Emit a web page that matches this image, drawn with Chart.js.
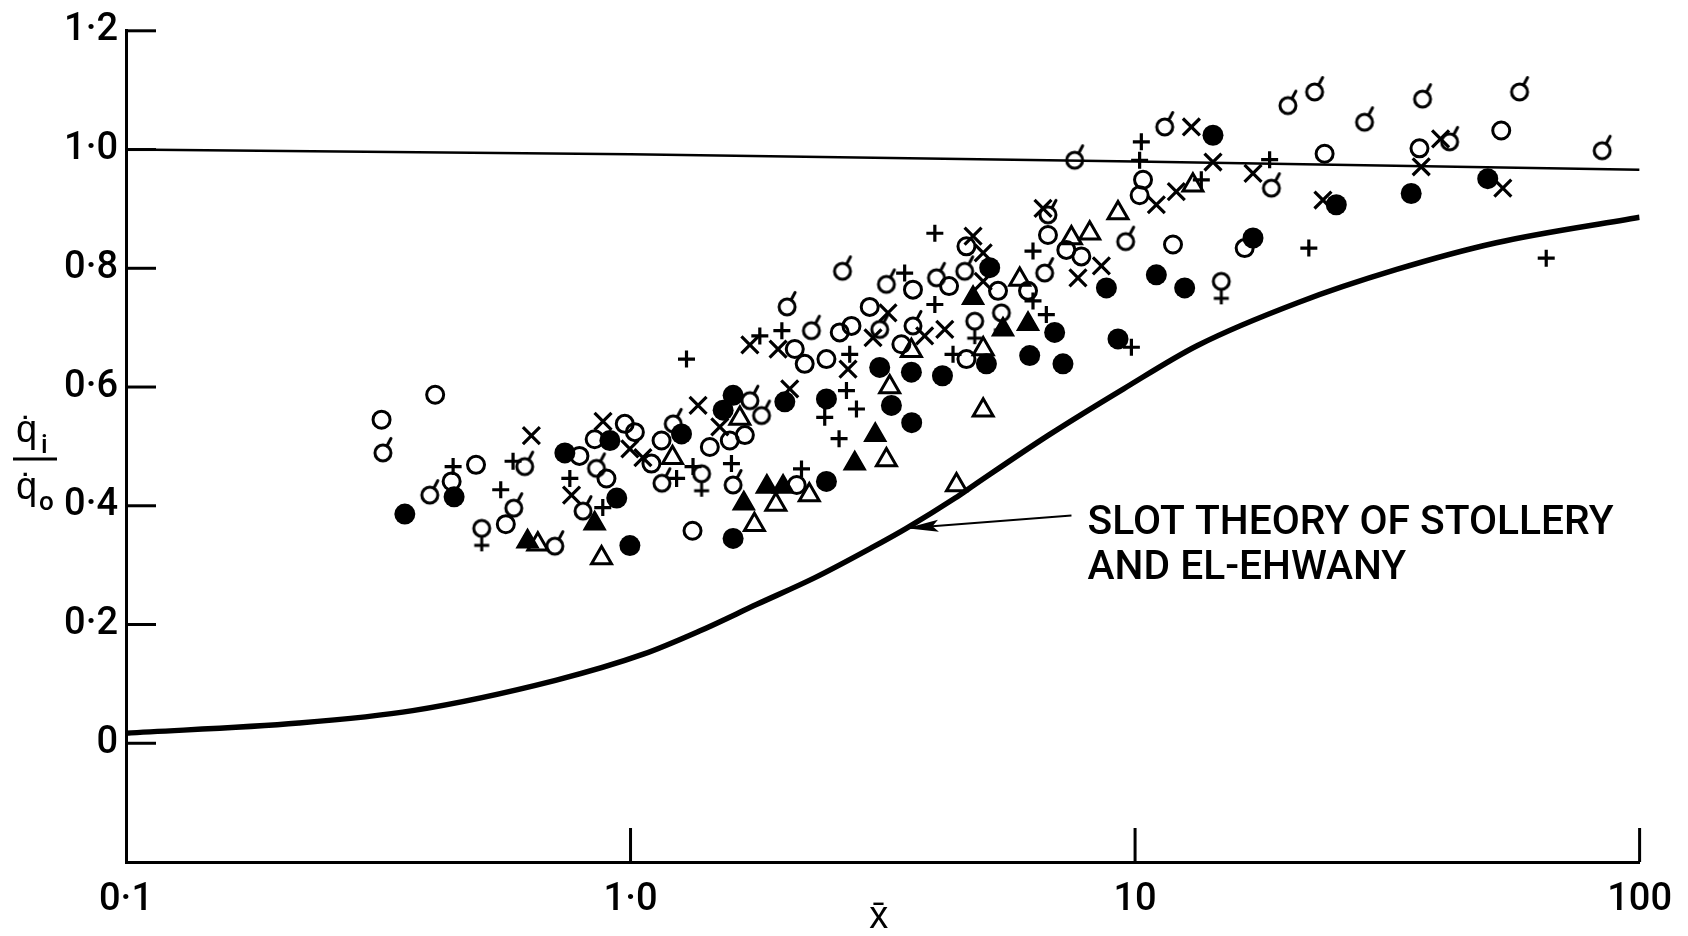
<!DOCTYPE html>
<html><head><meta charset="utf-8">
<script src="https://cdn.jsdelivr.net/npm/chart.js@4.4.1/dist/chart.umd.min.js"></script>
<style>html,body{margin:0;padding:0;background:#fff}#wrap{width:1688px;height:936px;position:relative}canvas{display:block}</style>
</head><body><div id="wrap"><canvas id="c" width="1688" height="936" style="width:1688px;height:936px"></canvas></div>
<script>
// ---------- data ----------
const xTickValues = [0.1, 1, 10, 100];
const xTickLabels = ['0·1', '1·0', '10', '100'];
const yTickValues = [0, 0.2, 0.4, 0.6, 0.8, 1.0, 1.2];
const yTickLabels = ['0', '0·2', '0·4', '0·6', '0·8', '1·0', '1·2'];

const theoryX = [0.1, 0.22, 0.37, 0.71, 1.06, 1.37, 1.78, 2.32, 3.0, 3.52, 4.4, 4.8, 6.74, 9.49, 13.3, 21.0, 33.0, 52.0, 100];
const theoryY = [0.017, 0.034, 0.055, 0.106, 0.150, 0.189, 0.234, 0.279, 0.329, 0.362, 0.413, 0.435, 0.519, 0.597, 0.670, 0.742, 0.798, 0.843, 0.886];

const unityX = [0.1, 1, 10, 100];
const unityY = [1.0, 0.992, 0.98, 0.966];

const openCircles = [[0.41,0.587],[0.321,0.545],[0.442,0.441],[0.494,0.469],[0.566,0.369],[0.792,0.484],[0.896,0.446],[0.849,0.512],[0.974,0.538],[1.02,0.524],[1.10,0.471],[1.152,0.510],[1.573,0.510],[1.685,0.519],[1.436,0.499],[1.327,0.358],[2.135,0.435],[2.116,0.664],[2.214,0.639],[2.445,0.647],[2.598,0.692],[2.741,0.703],[2.979,0.735],[3.629,0.764],[4.279,0.770],[3.442,0.672],[4.632,0.837],[5.35,0.762],[6.135,0.762],[6.72,0.856],[7.307,0.831],[7.825,0.820],[4.632,0.647],[10.37,0.949],[10.21,0.923],[11.89,0.840],[16.49,0.834],[23.75,0.993],[36.62,1.002],[53.18,1.032]];

const tailedCircles = [[0.323,0.489],[0.400,0.418],[0.617,0.466],[0.587,0.396],[0.708,0.332],[0.805,0.391],[0.856,0.463],[1.215,0.538],[1.154,0.438],[1.597,0.435],[1.818,0.552],[1.724,0.577],[2.631,0.795],[2.043,0.735],[2.283,0.695],[3.118,0.697],[3.215,0.773],[3.629,0.703],[4.04,0.784],[4.596,0.795],[6.619,0.792],[6.72,0.890],[7.59,0.982],[11.45,1.038],[18.63,0.935],[20.09,1.074],[22.69,1.097],[28.5,1.046],[37.13,1.085],[42.01,1.013],[57.81,1.097],[84.3,0.998],[9.58,0.845]];

const crossedCircles = [[0.507,0.362],[1.383,0.454],[5.433,0.725],[4.811,0.711],[14.82,0.778]];

const filledCircles = [[0.357,0.386],[0.447,0.415],[0.741,0.489],[0.910,0.510],[0.939,0.413],[0.997,0.333],[1.262,0.521],[1.526,0.561],[1.597,0.586],[1.597,0.345],[2.022,0.575],[2.445,0.580],[2.445,0.441],[3.118,0.633],[3.289,0.569],[3.603,0.625],[3.608,0.540],[4.152,0.619],[5.151,0.801],[5.074,0.639],[6.182,0.653],[6.928,0.692],[7.196,0.639],[8.774,0.767],[9.25,0.681],[11.02,0.789],[12.54,0.767],[14.27,1.024],[17.13,0.851],[25.05,0.907],[35.26,0.926],[50.0,0.951]];

const openTriangles = [[0.655,0.335],[0.876,0.312],[1.211,0.481],[1.647,0.547],[1.760,0.368],[1.941,0.402],[2.261,0.418],[3.215,0.477],[3.263,0.600],[3.603,0.661],[4.426,0.435],[5.0,0.561],[5.0,0.664],[5.907,0.781],[7.478,0.851],[8.13,0.859],[9.25,0.893],[13.02,0.940]];

const filledTriangles = [[0.625,0.340],[0.849,0.370],[1.677,0.404],[1.863,0.432],[2.006,0.432],[2.782,0.471],[3.055,0.519],[4.774,0.750],[5.473,0.697],[6.135,0.706]];

const plusMarks = [[0.445,0.466],[0.585,0.475],[0.553,0.427],[0.758,0.446],[0.881,0.397],[1.291,0.647],[1.330,0.466],[1.234,0.446],[1.585,0.471],[1.804,0.686],[1.995,0.695],[2.182,0.462],[2.590,0.513],[2.426,0.549],[2.679,0.594],[2.804,0.563],[2.719,0.655],[4.01,0.859],[3.494,0.792],[4.01,0.739],[4.357,0.655],[6.276,0.829],[6.276,0.745],[6.67,0.722],[9.833,0.667],[10.21,0.982],[10.29,1.013],[13.53,0.949],[18.48,0.983],[22.1,0.834],[65.3,0.817]];

const crossMarks = [[0.636,0.518],[0.764,0.418],[0.882,0.542],[0.997,0.496],[1.058,0.481],[1.361,0.569],[1.503,0.533],[1.724,0.671],[1.961,0.664],[2.068,0.597],[2.698,0.630],[3.238,0.725],[3.024,0.683],[3.828,0.686],[4.196,0.697],[4.774,0.854],[5.0,0.826],[5.0,0.778],[6.569,0.901],[7.706,0.784],[8.575,0.804],[11.02,0.907],[12.07,0.929],[12.93,1.038],[14.27,0.979],[17.13,0.960],[23.57,0.915],[36.91,0.971],[40.32,1.018],[53.57,0.935]];

const annotationLines = ['SLOT THEORY OF STOLLERY', 'AND EL-EHWANY'];
const arrowFrom = [7.48, 0.3836];
const arrowTo = [3.524, 0.3623];
const annotationAnchor = [8.05, 0.352, 0.2765];

// ---------- rendering ----------
const FONT = 'Roboto, "Liberation Sans", sans-serif';
const toPts = arr => arr.map(p => ({x: p[0], y: p[1]}));
const zipPts = (xs, ys) => xs.map((v, i) => ({x: v, y: ys[i]}));

function tailedImg() {
  const c = document.createElement('canvas'); c.width = c.height = 48;
  const g = c.getContext('2d'); g.strokeStyle = '#000'; g.lineWidth = 3; g.lineCap = 'round';
  g.beginPath(); g.arc(24, 24, 8, 0, Math.PI * 2); g.stroke();
  g.beginPath(); g.moveTo(28, 17); g.lineTo(32, 9.5); g.stroke();
  return c;
}
function crossedImg() {
  const c = document.createElement('canvas'); c.width = c.height = 64;
  const g = c.getContext('2d'); g.strokeStyle = '#000'; g.lineWidth = 3;
  g.beginPath(); g.arc(32, 32, 8, 0, Math.PI * 2); g.stroke();
  g.beginPath(); g.moveTo(32, 40); g.lineTo(32, 55); g.moveTo(24.5, 49); g.lineTo(39.5, 49); g.stroke();
  return c;
}

const decor = {
  id: 'decor',
  afterDraw(chart) {
    const {ctx, scales: {x, y}, chartArea: a} = chart;
    ctx.save();
    ctx.strokeStyle = '#000'; ctx.fillStyle = '#000'; ctx.lineWidth = 3;
    yTickValues.forEach(v => { const py = y.getPixelForValue(v); ctx.beginPath(); ctx.moveTo(a.left, py); ctx.lineTo(a.left + 30, py); ctx.stroke(); });
    xTickValues.slice(1).forEach(v => { const px = x.getPixelForValue(v); ctx.beginPath(); ctx.moveTo(px, a.bottom); ctx.lineTo(px, a.bottom - 34); ctx.stroke(); });

    // arrow
    const fx = x.getPixelForValue(arrowFrom[0]), fy = y.getPixelForValue(arrowFrom[1]);
    const tx = x.getPixelForValue(arrowTo[0]), ty = y.getPixelForValue(arrowTo[1]);
    ctx.lineWidth = 2;
    ctx.beginPath(); ctx.moveTo(fx, fy); ctx.lineTo(tx, ty); ctx.stroke();
    const ang = Math.atan2(ty - fy, tx - fx);
    ctx.beginPath(); ctx.moveTo(tx, ty);
    ctx.lineTo(tx - 32 * Math.cos(ang) + 6 * Math.sin(ang), ty - 32 * Math.sin(ang) - 6 * Math.cos(ang));
    ctx.lineTo(tx - 26 * Math.cos(ang), ty - 26 * Math.sin(ang));
    ctx.lineTo(tx - 32 * Math.cos(ang) - 6 * Math.sin(ang), ty - 32 * Math.sin(ang) + 6 * Math.cos(ang));
    ctx.closePath(); ctx.fill();

    // annotation text
    ctx.font = '500 40px ' + FONT; ctx.textBaseline = 'alphabetic'; ctx.textAlign = 'left';
    const ax = x.getPixelForValue(annotationAnchor[0]);
    const w1 = ctx.measureText(annotationLines[0]).width;
    const sx = 526 / w1;
    ctx.save(); ctx.translate(ax, 0); ctx.scale(sx, 1);
    ctx.fillText(annotationLines[0], 0, y.getPixelForValue(annotationAnchor[1]));
    ctx.fillText(annotationLines[1], 0, y.getPixelForValue(annotationAnchor[2]));
    ctx.restore();

    // y title (fraction)
    ctx.font = '500 38px ' + FONT;
    ctx.fillText('q\u0307', 16, 442);
    ctx.fillText('q\u0307', 16, 499);
    ctx.font = '500 26px ' + FONT;
    ctx.fillText('i', 41, 453);
    ctx.fillText('o', 39, 510);
    ctx.lineWidth = 3; ctx.beginPath(); ctx.moveTo(13, 459); ctx.lineTo(57, 459); ctx.stroke();

    // x title
    ctx.font = '500 38px ' + FONT; ctx.textAlign = 'center';
    ctx.fillText('x\u0304', (a.left + a.right) / 2 - 4, 928);
    ctx.restore();
  }
};

const markerBase = {showLine: false, borderColor: '#000'};
const chart = new Chart(document.getElementById('c'), {
  type: 'scatter',
  data: {
    datasets: [
      {label: 'Slot theory', data: zipPts(theoryX, theoryY), showLine: true, borderColor: '#000', borderWidth: 5.5, pointRadius: 0, cubicInterpolationMode: 'monotone', fill: false},
      {label: 'Unity', data: zipPts(unityX, unityY), showLine: true, borderColor: '#000', borderWidth: 2.5, pointRadius: 0, tension: 0, fill: false},
      {...markerBase, label: 'open circle', data: toPts(openCircles), pointStyle: 'circle', pointRadius: 8.5, borderWidth: 3, backgroundColor: 'rgba(0,0,0,0)'},
      {...markerBase, label: 'tailed circle', data: toPts(tailedCircles), pointStyle: tailedImg()},
      {...markerBase, label: 'crossed circle', data: toPts(crossedCircles), pointStyle: crossedImg()},
      {...markerBase, label: 'filled circle', data: toPts(filledCircles), pointStyle: 'circle', pointRadius: 10.5, borderWidth: 0, backgroundColor: '#000'},
      {...markerBase, label: 'open triangle', data: toPts(openTriangles), pointStyle: 'triangle', pointRadius: 11.5, borderWidth: 3, backgroundColor: 'rgba(0,0,0,0)'},
      {...markerBase, label: 'filled triangle', data: toPts(filledTriangles), pointStyle: 'triangle', pointRadius: 12, borderWidth: 2, backgroundColor: '#000'},
      {...markerBase, label: 'plus', data: toPts(plusMarks), pointStyle: 'cross', pointRadius: 8.5, borderWidth: 3.2},
      {...markerBase, label: 'cross', data: toPts(crossMarks), pointStyle: 'crossRot', pointRadius: 12, borderWidth: 3.2}
    ]
  },
  options: {
    responsive: false, maintainAspectRatio: false, animation: false, devicePixelRatio: 1,
    layout: {padding: {top: 26, right: 48, left: 0, bottom: 0}},
    plugins: {legend: {display: false}, tooltip: {enabled: false}},
    scales: {
      x: {
        type: 'logarithmic', min: 0.1, max: 100,
        grid: {display: false, drawTicks: false},
        border: {display: true, color: '#000', width: 3},
        afterBuildTicks: s => { s.ticks = xTickValues.map(v => ({value: v})); },
        afterFit: s => { s.height = 74; },
        ticks: {color: '#000', padding: 16, maxRotation: 0, autoSkip: false, font: {family: FONT, size: 38, weight: '500'},
          callback: (v) => { const i = xTickValues.indexOf(v); return i >= 0 ? xTickLabels[i] : ''; }}
      },
      y: {
        type: 'linear', min: -0.2, max: 1.2,
        grid: {display: false, drawTicks: false},
        border: {display: true, color: '#000', width: 3},
        afterBuildTicks: s => { s.ticks = yTickValues.map(v => ({value: v})); },
        afterFit: s => { s.width = 126; },
        ticks: {color: '#000', padding: 8, autoSkip: false, font: {family: FONT, size: 38, weight: '500'},
          callback: (v) => { const i = yTickValues.findIndex(t => Math.abs(t - v) < 1e-9); return i >= 0 ? yTickLabels[i] : ''; }}
      }
    }
  },
  plugins: [decor]
});
</script>
</body></html>
